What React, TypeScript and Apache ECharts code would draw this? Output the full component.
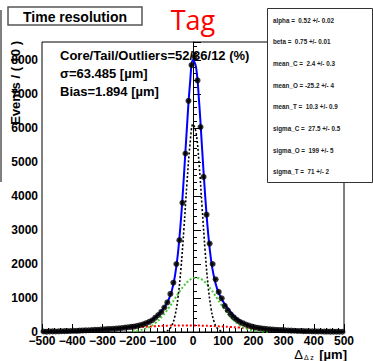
import React, { useEffect, useRef } from "react";
import * as echarts from "echarts";

// ---- data ----
const binCenters = [
  -495, -485, -475, -465, -455, -445, -435, -425, -415, -405,
  -395, -385, -375, -365, -355, -345, -335, -325, -315, -305,
  -295, -285, -275, -265, -255, -245, -235, -225, -215, -205,
  -195, -185, -175, -165, -155, -145, -135, -125, -115, -105,
  -95, -85, -75, -65, -55, -45, -35, -25, -15, -5,
  5, 15, 25, 35, 45, 55, 65, 75, 85, 95,
  105, 115, 125, 135, 145, 155, 165, 175, 185, 195,
  205, 215, 225, 235, 245, 255, 265, 275, 285, 295,
  305, 315, 325, 335, 345, 355, 365, 375, 385, 395,
  405, 415, 425, 435, 445, 455, 465, 475, 485, 495,
];
const eventCounts = [
  14, 10, 16, 18, 15, 20, 22, 25, 28, 30,
  35, 33, 40, 45, 48, 52, 58, 62, 66, 72,
  78, 84, 90, 95, 100, 110, 118, 128, 140, 150,
  160, 178, 200, 225, 260, 300, 345, 420, 500, 590,
  720, 870, 1120, 1450, 2000, 2700, 3800, 5250, 6800, 7850,
  8100, 7400, 6030, 4560, 3450, 2600, 2000, 1550, 1180, 990,
  770, 640, 520, 430, 360, 300, 260, 220, 190, 160,
  140, 122, 108, 98, 88, 80, 72, 65, 60, 55,
  50, 44, 40, 36, 32, 30, 26, 24, 22, 20,
  18, 16, 15, 13, 12, 11, 10, 9, 8, 7,
];

const curveX = [
  -500, -400, -300, -250, -200, -175, -150, -125, -100, -90, -80, -70, -60, -50,
  -40, -30, -20, -10, 0, 10, 20, 30, 40, 50, 60, 70, 80, 90, 100, 125, 150, 175,
  200, 250, 300, 400, 500,
];
const totalFit = [
  11, 33, 75, 104, 152, 199, 284, 431, 666, 796, 968, 1223, 1636, 2302,
  3296, 4603, 6033, 7300, 8000, 7800, 6800, 5413, 4045, 2914, 2108, 1594, 1270, 1054, 890, 580, 363, 226,
  147, 80, 51, 20, 6,
];
const coreFit = [
  null, null, null, null, null, null, null, null, 6, 22, 68, 190, 465, 994,
  1858, 3047, 4378, 5510, 6110, 5873, 4970, 3686, 2395, 1364, 679, 298, 114, 38, 11, null, null, null,
  null, null, null, null, null,
];
const tailFit = [
  null, null, null, null, 20, 53, 125, 260, 479, 590, 713, 844, 980, 1116,
  1245, 1362, 1461, 1536, 1583, 1600, 1585, 1540, 1466, 1369, 1252, 1123, 988, 852, 720, 434, 231, 109,
  45, 5, null, null, null,
];
const outlierFit = [
  11, 33, 75, 102, 132, 146, 159, 171, 181, 184, 187, 189, 191, 192,
  193, 194, 194, 194, 192, 191, 189, 187, 184, 181, 177, 173, 168, 164, 159, 146, 132, 117,
  102, 75, 51, 20, 6,
];

const statLines = [
  "alpha =  0.52 +/- 0.02",
  "beta =  0.75 +/- 0.01",
  "mean_C =  2.4 +/- 0.3",
  "mean_O = -25.2 +/- 4",
  "mean_T =  10.3 +/- 0.9",
  "sigma_C =  27.5 +/- 0.5",
  "sigma_O =  199 +/- 5",
  "sigma_T =  71 +/- 2",
];
const infoLines = ["Core/Tail/Outliers=52/36/12 (%)", "σ=63.485 [µm]", "Bias=1.894 [µm]"];

const FONT = "Liberation Sans, Arial, Helvetica, sans-serif";

export default function App() {
  const ref = useRef<HTMLDivElement>(null);
  useEffect(() => {
    document.body.style.margin = "0";
    const chart = echarts.init(ref.current!, null, { renderer: "svg" });
    const pairs = (ys: (number | null)[]) => curveX.map((x, i) => [x, ys[i]]);
    const points = binCenters.map((x, i) => [x, eventCounts[i], Math.sqrt(eventCounts[i])]);

    const graphics: any[] = [
      // left pad border
      { type: "line", shape: { x1: 1, y1: 10, x2: 1, y2: 182 }, style: { stroke: "#000", lineWidth: 1 }, z: 10 },
      // title box
      { type: "rect", shape: { x: 8, y: 7, width: 134, height: 18 }, style: { fill: "#fff", stroke: "#555", lineWidth: 1.5 }, z: 10 },
      { type: "text", x: 75, y: 16.5, style: { text: "Time resolution", font: `bold 14px ${FONT}`, fill: "#000", align: "center", verticalAlign: "middle" }, z: 11 },
      { type: "text", x: 193, y: 19, style: { text: "Tag", font: `27px "Open Sans", ${FONT}`, fill: "#ff0000", align: "center", verticalAlign: "middle" }, z: 11 },
      // stats box
      { type: "rect", shape: { x: 267.5, y: 8.5, width: 105, height: 174 }, style: { fill: "#fff", stroke: "#333", lineWidth: 1 }, z: 10 },
      ...statLines.map((t, i) => ({
        type: "text", x: 273, y: 20 + i * 21.7,
        style: { text: t, font: `bold 6.3px ${FONT}`, fill: "#222", align: "left", verticalAlign: "middle" }, z: 11,
      })),
      ...infoLines.map((t, i) => ({
        type: "text", x: 60, y: [55, 73, 91][i],
        style: { text: t, font: `bold 13px ${FONT}`, fill: "#000", align: "left", verticalAlign: "middle" }, z: 11,
      })),
      // y title
      { type: "text", x: 15, y: 41, rotation: Math.PI / 2, style: { text: "Events / ( 10 )", font: `bold 13px ${FONT}`, fill: "#000", align: "right", verticalAlign: "middle" }, z: 11 },
      // x title
      { type: "text", x: 303, y: 354.5, style: { text: "Δ", font: `13px ${FONT}`, fill: "#000", align: "right", verticalAlign: "middle" }, z: 11 },
      { type: "text", x: 304, y: 357.5, style: { text: "Δ z", font: `7px ${FONT}`, fill: "#000", align: "left", verticalAlign: "middle" }, z: 11 },
      { type: "text", x: 347, y: 354.5, style: { text: "[µm]", font: `bold 13px ${FONT}`, fill: "#000", align: "right", verticalAlign: "middle" }, z: 11 },
    ];

    chart.setOption({
      animation: false,
      grid: { left: 42, top: 42, right: 29, bottom: 29, show: true, borderColor: "#000", borderWidth: 1, backgroundColor: "transparent" },
      xAxis: {
        type: "value", min: -500, max: 500, interval: 100,
        axisLine: { lineStyle: { color: "#000", width: 1 } },
        axisTick: { inside: true, length: 8, lineStyle: { color: "#000" } },
        minorTick: { show: true, splitNumber: 5, length: 4, lineStyle: { color: "#000" } },
        splitLine: { show: false },
        axisLabel: {
          color: "#000", fontWeight: "bold", fontSize: 12, fontFamily: FONT, margin: 3,
          formatter: (v: number) => (v < 0 ? "\u2212" + Math.abs(v) : String(v)),
        },
      },
      yAxis: {
        type: "value", min: 0, max: 8530, interval: 1000,
        axisLine: { show: true, lineStyle: { color: "#000", width: 1 } },
        axisTick: { show: true, inside: true, length: 8, lineStyle: { color: "#000" } },
        minorTick: { show: true, splitNumber: 5, length: 4, lineStyle: { color: "#000" } },
        splitLine: { show: false },
        axisLabel: {
          color: "#000", fontWeight: "bold", fontSize: 12, fontFamily: FONT, margin: 4, showMaxLabel: false,
          formatter: (v: number) => (v % 1000 === 0 ? String(v) : ""),
        },
      },
      series: [
        {
          type: "line", data: pairs(outlierFit), smooth: 0.4, symbol: "none", z: 2,
          lineStyle: { color: "#ff0000", width: 2, type: [2, 2] },
        },
        {
          type: "line", data: pairs(tailFit), smooth: 0.4, symbol: "none", z: 2,
          lineStyle: { color: "#44cc33", width: 2, type: [2, 2] },
        },
        {
          type: "line", data: pairs(coreFit), smooth: 0.4, symbol: "none", z: 2,
          lineStyle: { color: "#000", width: 1.6, type: [2, 2] },
        },
        {
          type: "line", data: pairs(totalFit), smooth: 0.4, symbol: "none", z: 3,
          lineStyle: { color: "#0000ff", width: 2 },
        },
        {
          type: "custom", z: 4, data: points,
          renderItem: (params: any, api: any) => {
            const x = api.value(0), y = api.value(1), e = api.value(2);
            const a = api.coord([x - 5, y]);
            const b = api.coord([x + 5, y]);
            const c = api.coord([x, y - e]);
            const d = api.coord([x, y + e]);
            return {
              type: "group",
              children: [
                { type: "line", shape: { x1: a[0], y1: a[1], x2: b[0], y2: b[1] }, style: { stroke: "#000", lineWidth: 1.2 } },
                { type: "line", shape: { x1: c[0], y1: c[1], x2: d[0], y2: d[1] }, style: { stroke: "#000", lineWidth: 1 } },
              ],
            };
          },
        },
        {
          type: "scatter", data: points.map((p) => [p[0], p[1]]), symbol: "circle", symbolSize: 6, z: 5,
          itemStyle: { color: "#000" },
        },
      ],
      graphic: graphics,
    });
    return () => chart.dispose();
  }, []);
  return <div ref={ref} style={{ position: "absolute", left: 0, top: 0, width: 373, height: 361 }} />;
}
